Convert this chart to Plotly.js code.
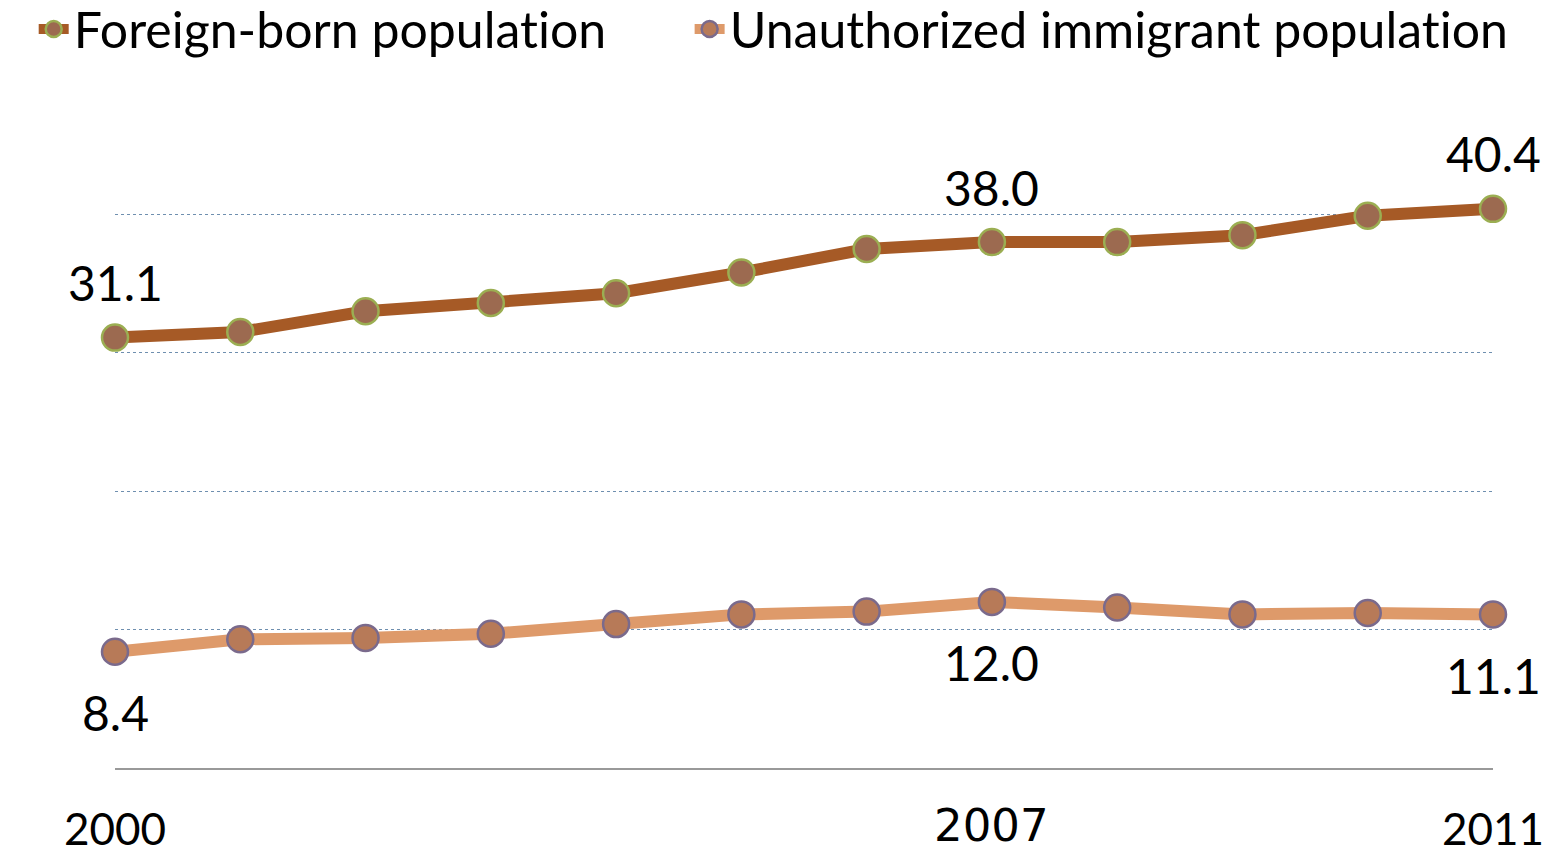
<!DOCTYPE html>
<html>
<head>
<meta charset="utf-8">
<script src="https://cdn.plot.ly/plotly-3.0.1.min.js"></script>
<style>
html,body{margin:0;padding:0;background:#fff;}
#chart{width:1549px;height:856px;}
#chart svg text{font-variant-ligatures:none !important;font-feature-settings:"liga" 0, "clig" 0 !important;}
</style>
</head>
<body>
<div id="chart"></div>
<script>
const years = [2000, 2001, 2002, 2003, 2004, 2005, 2006, 2007, 2008, 2009, 2010, 2011];
const foreignBorn = [31.1, 31.5, 33.0, 33.6, 34.3, 35.8, 37.5, 38.0, 38.0, 38.5, 39.9, 40.4];
const unauthorized = [8.4, 9.3, 9.4, 9.7, 10.4, 11.1, 11.3, 12.0, 11.6, 11.1, 11.2, 11.1];
const seriesNames = ["Foreign-born population", "Unauthorized immigrant population"];
const tickYears = [2000, 2007, 2011];
const fbLabelIdx = [0, 7, 11];
const unLabelIdx = [0, 7, 11];

const FONT = "Lato, 'Open Sans', sans-serif";

const traces = [
  {
    x: years, y: foreignBorn, name: seriesNames[0], type: "scatter", mode: "lines+markers",
    line: {color: "#A65A26", width: 12}, cliponaxis: false,
    marker: {size: 26, color: "#9C6A50", line: {color: "#9BAE52", width: 2.5}},
    legend: "legend", hoverinfo: "x+y"
  },
  {
    x: years, y: unauthorized, name: seriesNames[1], type: "scatter", mode: "lines+markers",
    line: {color: "#DE9A6A", width: 12}, cliponaxis: false,
    marker: {size: 26, color: "#B77A58", line: {color: "#7A6A8C", width: 2.5}},
    legend: "legend2", hoverinfo: "x+y"
  }
];

const annotations = [];
fbLabelIdx.forEach(i => {
  annotations.push({x: years[i], y: foreignBorn[i], xref: "x", yref: "y", text: foreignBorn[i].toFixed(1),
    showarrow: false, yshift: 55, xanchor: "center", yanchor: "middle",
    font: {family: FONT, size: 48, color: "#000"}});
});
unLabelIdx.forEach(i => {
  annotations.push({x: years[i], y: unauthorized[i], xref: "x", yref: "y", text: unauthorized[i].toFixed(1),
    showarrow: false, yshift: -61, xanchor: "center", yanchor: "middle",
    font: {family: FONT, size: 48, color: "#000"}});
});
tickYears.forEach(yr => {
  const is2007 = yr === 2007;
  annotations.push({x: yr, y: 0, xref: "x", yref: "y", text: String(yr), showarrow: false,
    yshift: is2007 ? -57 : -60, xanchor: "center", yanchor: "middle",
    font: {family: is2007 ? "'DejaVu Sans', sans-serif" : FONT, size: is2007 ? 45 : 44, color: "#000"}});
});

const layout = {
  width: 1549, height: 856,
  margin: {l: 115, r: 56, t: 76, b: 88, autoexpand: false},
  paper_bgcolor: "#fff", plot_bgcolor: "#fff",
  showlegend: true,
  xaxis: {range: [2000, 2011], showgrid: false, zeroline: false, showticklabels: false,
    showline: true, linecolor: "#999999", linewidth: 2, ticks: ""},
  yaxis: {range: [0, 50], tickvals: [10, 20, 30, 40], showticklabels: false, showgrid: true,
    gridcolor: "#6F8FAF", gridwidth: 1, griddash: "dot", zeroline: false, showline: false},
  legend: {x: -0.059, y: 1.068, xanchor: "left", yanchor: "middle", orientation: "h",
    font: {family: FONT, size: 50, color: "#000"}, bgcolor: "rgba(0,0,0,0)"},
  legend2: {x: 0.417, y: 1.068, xanchor: "left", yanchor: "middle", orientation: "h",
    font: {family: FONT, size: 50, color: "#000"}, bgcolor: "rgba(0,0,0,0)"},
  annotations: annotations
};

Plotly.newPlot("chart", traces, layout, {displayModeBar: false, staticPlot: true});
</script>
</body>
</html>
